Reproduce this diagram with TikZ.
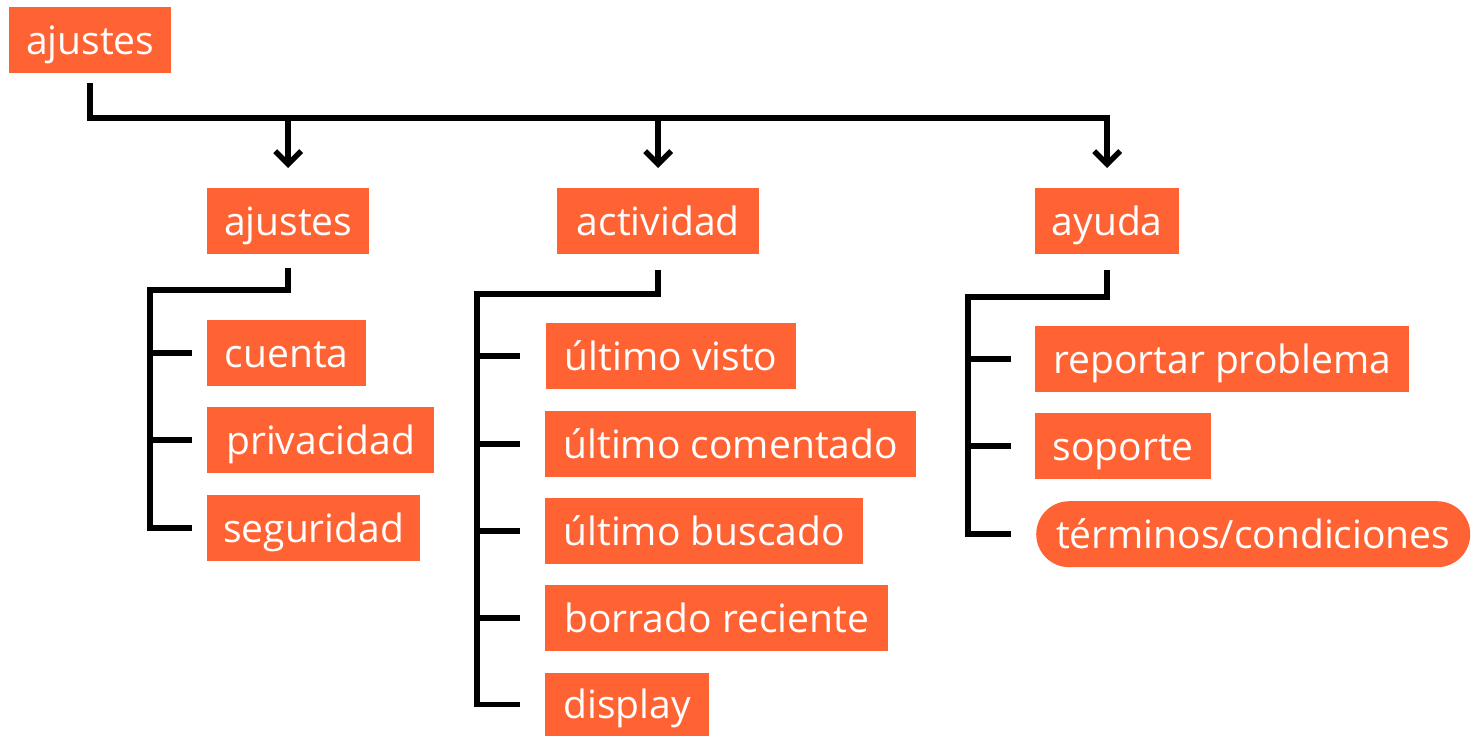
\documentclass[tikz,border=0pt]{standalone}
\usepackage{fontspec}
\setmainfont{Open Sans}
\usetikzlibrary{arrows.meta}
\definecolor{boxor}{HTML}{FF6333}
\tikzset{
  box/.style={fill=boxor, text=white, anchor=north west, inner sep=0pt,
    minimum height=66pt, text height=28pt, text depth=0pt,
    font=\fontsize{39}{46}\selectfont},
  conn/.style={line width=5.5pt, black, line join=miter},
  arr/.style={conn, -{Straight Barb[length=13pt,width=26pt]}}
}
\begin{document}
\begin{tikzpicture}[x=1pt,y=-1pt]
\useasboundingbox (0,0) rectangle (1471,736);
% nodes
\node[box, minimum width=162pt] (root) at (9,7) {ajustes};
\node[box, minimum width=162pt] (aj) at (207,188) {ajustes};
\node[box, minimum width=202pt] (act) at (557,188) {actividad};
\node[box, minimum width=144pt] (ayu) at (1035,188) {ayuda};
\node[box, minimum width=159pt] (cuenta) at (207,320) {cuenta};
\node[box, minimum width=227pt] (priv) at (207,407) {privacidad};
\node[box, minimum width=213pt] (seg) at (207,495) {seguridad};
\node[box, minimum width=250pt] (uv) at (546,323) {último visto};
\node[box, minimum width=371pt] (uc) at (545,411) {último comentado};
\node[box, minimum width=318pt] (ub) at (545,498) {último buscado};
\node[box, minimum width=343pt] (br) at (545,585) {borrado reciente};
\node[box, minimum width=164pt, minimum height=63pt] (disp) at (545,673) {display};
\node[box, minimum width=374pt] (rep) at (1035,326) {reportar problema};
\node[box, minimum width=176pt] (sop) at (1035,413) {soporte};
\node[box, minimum width=434pt, rounded corners=33pt] (ter) at (1036,501) {términos/condiciones};
% top bus
\coordinate (bus) at (0,118);
\draw[arr] ([yshift=-10pt]root.south) |- (ayu.north |- bus) -- ([yshift=20pt]ayu.north);
\draw[arr] (aj.north |- bus) -- ([yshift=20pt]aj.north);
\draw[arr] (act.north |- bus) -- ([yshift=20pt]act.north);
% column 1
\coordinate (t1) at (150,290);
\draw[conn] ([yshift=-14pt]aj.south) |- (t1) |- ([xshift=-15pt]seg.west);
\draw[conn] (t1 |- cuenta.west) -- ([xshift=-15pt]cuenta.west);
\draw[conn] (t1 |- priv.west) -- ([xshift=-15pt]priv.west);
% column 2
\coordinate (t2) at (477,294);
\draw[conn] ([yshift=-16pt]act.south) |- (t2) |- ([xshift=-25pt]disp.west);
\draw[conn] (t2 |- uv.west) -- ([xshift=-26pt]uv.west);
\draw[conn] (t2 |- uc.west) -- ([xshift=-25pt]uc.west);
\draw[conn] (t2 |- ub.west) -- ([xshift=-25pt]ub.west);
\draw[conn] (t2 |- br.west) -- ([xshift=-25pt]br.west);
% column 3
\coordinate (t3) at (968,297);
\draw[conn] ([yshift=-16pt]ayu.south) |- (t3) |- ([xshift=-25pt]ter.west);
\draw[conn] (t3 |- rep.west) -- ([xshift=-24pt]rep.west);
\draw[conn] (t3 |- sop.west) -- ([xshift=-24pt]sop.west);
\end{tikzpicture}
\end{document}
